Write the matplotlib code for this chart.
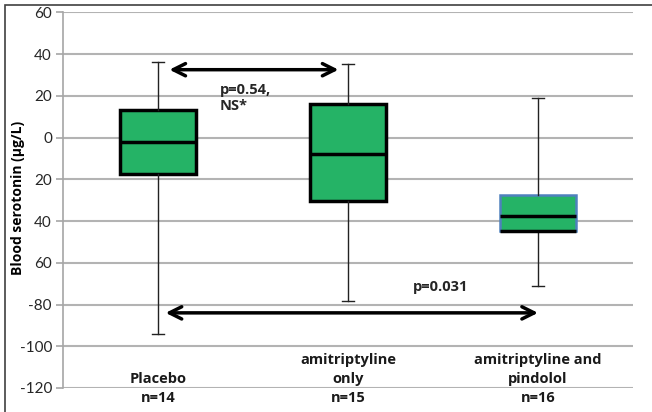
import matplotlib
matplotlib.use("Agg")
import matplotlib.pyplot as plt
from matplotlib.patches import Rectangle

# ---- data ----
categories = ["Placebo\nn=14", "amitriptyline\nonly\nn=15", "amitriptyline and\npindolol\nn=16"]
whisker_low = [-94, -78.5, -71]
q1 = [-17.5, -30.5, -45]
median = [-2, -8, -37.5]
q3 = [13, 16, -27.5]
whisker_high = [36, 35, 19]

y_ticks = [60, 40, 20, 0, -20, -40, -60, -80, -100, -120]
y_tick_labels = ["60", "40", "20", "0", "20", "40", "60", "-80", "-100", "-120"]

ann_top_text = "p=0.54,\nNS*"
ann_top_y = 32.5
ann_top_x = [1.06, 1.95]
ann_bot_text = "p=0.031"
ann_bot_y = -84
ann_bot_x = [1.04, 3.0]

plt.rcParams['font.family'] = ['Lato', 'DejaVu Sans']
BOLD = ['Open Sans', 'DejaVu Sans']

fig = plt.figure(figsize=(6.52, 4.12), dpi=100)
ax = fig.add_axes([63/652, 1-388/412, 570/652, (388-12.3)/412])

stats = []
for i in range(3):
    stats.append(dict(med=median[i], q1=q1[i], q3=q3[i], whislo=whisker_low[i],
                      whishi=whisker_high[i], fliers=[], label=""))
positions = [1, 2, 3]
bp = ax.bxp(stats, positions=positions, widths=0.4, patch_artist=True,
            showfliers=False,
            boxprops=dict(facecolor="#25B366", edgecolor="black", linewidth=2.5),
            medianprops=dict(color="black", linewidth=2.5),
            whiskerprops=dict(color="#222222", linewidth=1.0),
            capprops=dict(color="#222222", linewidth=1.0),
            capwidths=0.065, zorder=3)
# third box has a blue-grey outline with black lower edge
bp['boxes'][2].set_edgecolor("#4F81BD")
bp['boxes'][2].set_linewidth(1.8)
ax.hlines(q1[2], positions[2]-0.2, positions[2]+0.2, color="black", lw=2.5, zorder=4)

ax.set_xlim(0.5, 3.5)
ax.set_ylim(-120, 60)
ax.set_yticks(y_ticks)
ax.set_yticklabels(y_tick_labels, fontsize=11, color="#262626")
ax.set_xticks(positions)
ax.set_xticklabels(categories, fontsize=10.5, fontweight="bold", family=BOLD, va="bottom",
                   multialignment="center", linespacing=1.45, color="#1a1a1a")
ax.tick_params(axis="x", length=0, pad=12.5)
ax.tick_params(axis="y", length=5, width=1.2, color="#a6a6a6", pad=3)
ax.yaxis.grid(True, color="#b3b3b3", linewidth=1.5, zorder=0)
ax.set_axisbelow(True)
for s in ["top", "right", "bottom"]:
    ax.spines[s].set_visible(False)
ax.spines["left"].set_color("#a6a6a6")
ax.spines["left"].set_linewidth(1.2)

ax.set_ylabel("Blood serotonin (µg/L)", fontsize=10, fontweight="bold", family=BOLD)
ax.yaxis.set_label_coords(-0.066, 0.505)

arrow = dict(arrowstyle="<->", lw=2.5, color="black", mutation_scale=22, shrinkA=0, shrinkB=0)
ax.annotate("", xy=(ann_top_x[0], ann_top_y), xytext=(ann_top_x[1], ann_top_y), arrowprops=arrow)
ax.annotate("", xy=(ann_bot_x[0], ann_bot_y), xytext=(ann_bot_x[1], ann_bot_y), arrowprops=arrow)
ax.text(1.325, 19.0, ann_top_text, fontsize=10.5, fontweight="bold", family=BOLD, color="#262626",
        va="center", ha="left", linespacing=1.2)
ax.text(2.34, -71.5, ann_bot_text, fontsize=10.5, fontweight="bold", family=BOLD, color="#262626",
        va="center", ha="left")

# outer chart frame (cropped on right and bottom)
fig.add_artist(Rectangle((5/652, -0.1), 1.1, 1.1 - 5/412, transform=fig.transFigure,
                         fill=False, edgecolor="#404040", linewidth=1.2))

fig.savefig("out.png", dpi=100)
